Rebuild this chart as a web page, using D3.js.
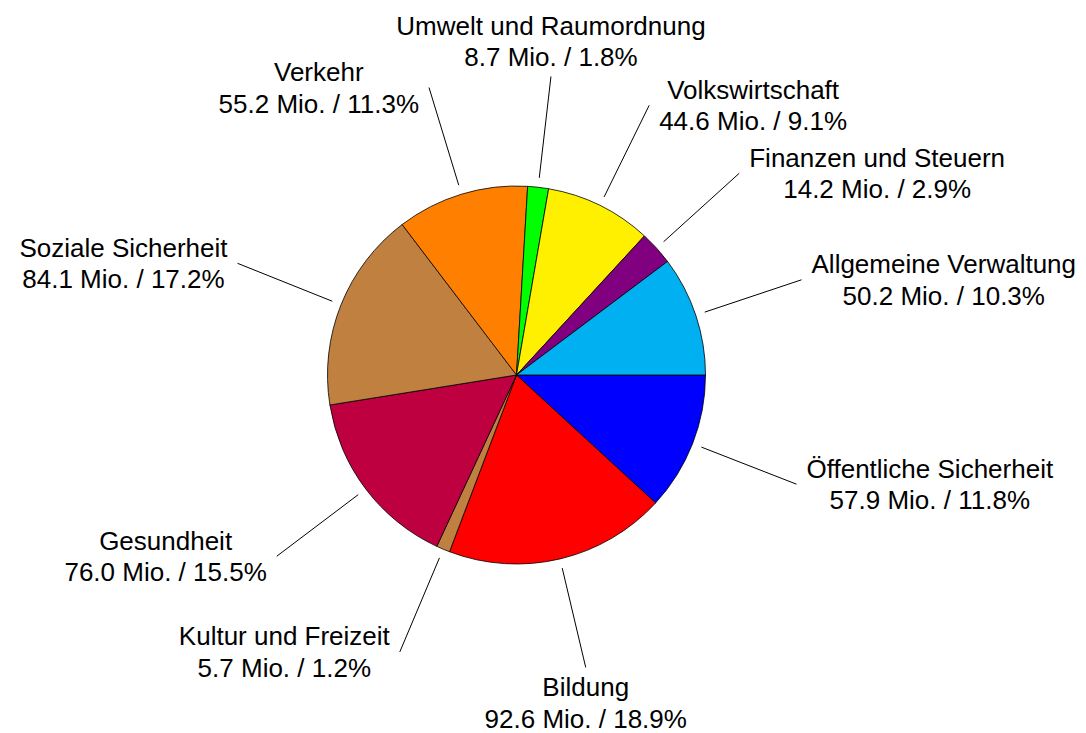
<!DOCTYPE html>
<html>
<head>
<meta charset="utf-8">
<script src="https://cdn.jsdelivr.net/npm/d3@7"></script>
<style>
  body { margin: 0; background: #fff; }
  svg text { font-family: "Liberation Sans", Arial, Helvetica, sans-serif; fill: #000; }
</style>
</head>
<body>
<svg id="chart" width="1086" height="733"></svg>
<script>
// Budget categories (clockwise from 3 o'clock)
const categories = [
    "Öffentliche Sicherheit", "Bildung", "Kultur und Freizeit", "Gesundheit",
    "Soziale Sicherheit", "Verkehr", "Umwelt und Raumordnung", "Volkswirtschaft",
    "Finanzen und Steuern", "Allgemeine Verwaltung"
];
// amounts in Mio.
const values = [57.9, 92.6, 5.7, 76.0, 84.1, 55.2, 8.7, 44.6, 14.2, 50.2];
const colors = [
    "#0000ff", "#ff0000", "#c08040", "#be0040", "#c08040",
    "#ff8000", "#00ff00", "#fff000", "#800080", "#00b0f0"
];

const width = 1086;
const height = 733;
const cx = 516.5, cy = 375;
const radius = 189;
const fontSize = 26;
const lineGap = 31.5;
const gap = 10;

const svg = d3.select("#chart");
const total = d3.sum(values);

const data = categories.map((c, i) => ({ name: c, value: values[i], color: colors[i] }));

// start at east, go clockwise
const pie = d3.pie()
    .value(d => d.value)
    .sort(null)
    .startAngle(Math.PI / 2)
    .endAngle(Math.PI / 2 + 2 * Math.PI);

const arcs = pie(data);

const arc = d3.arc().innerRadius(0).outerRadius(radius);

const g = svg.append("g").attr("transform", "translate(" + cx + "," + cy + ")");

g.selectAll("path.slice")
    .data(arcs)
    .join("path")
    .attr("class", "slice")
    .attr("d", arc)
    .attr("fill", d => d.data.color)
    .attr("stroke", "#000")
    .attr("stroke-width", 0.8)
    .attr("stroke-linejoin", "round");

const inner = d3.arc().innerRadius(radius * 1.05).outerRadius(radius * 1.05);
const outer = d3.arc().innerRadius(radius * 1.59).outerRadius(radius * 1.59);

arcs.forEach(d => {
    const mid = (d.startAngle + d.endAngle) / 2;
    const ux = Math.sin(mid), uy = -Math.cos(mid);
    const r1 = radius * 1.05, r2 = radius * 1.59;

    g.append("line")
        .attr("x1", ux * r1).attr("y1", uy * r1)
        .attr("x2", ux * r2).attr("y2", uy * r2)
        .attr("stroke", "#000")
        .attr("stroke-width", 1);

    const ex = ux * r2, ey = uy * r2;
    const pct = d.data.value / total * 100;
    const lines = [d.data.name, d.data.value.toFixed(1) + " Mio. / " + pct.toFixed(1) + "%"];

    const t = g.append("text")
        .attr("font-size", fontSize)
        .attr("text-anchor", "middle");
    const spans = lines.map(s => t.append("tspan").text(s));
    const w = d3.max(spans, s => s.node().getComputedTextLength());
    const capHalf = fontSize * 0.358;

    let bx, centers;
    if (Math.abs(ux) < 0.26) {
        // above / below
        bx = ex;
        if (uy > 0) {
            const top = ey + gap + capHalf;
            centers = [top, top + lineGap];
        } else {
            const bottom = ey - gap - capHalf;
            centers = [bottom - lineGap, bottom];
        }
    } else {
        bx = ux > 0 ? ex + gap + w / 2 : ex - gap - w / 2;
        centers = [ey - lineGap / 2, ey + lineGap / 2];
    }
    spans.forEach((s, i) => s.attr("x", bx).attr("y", centers[i] + capHalf));
});
</script>
</body>
</html>
